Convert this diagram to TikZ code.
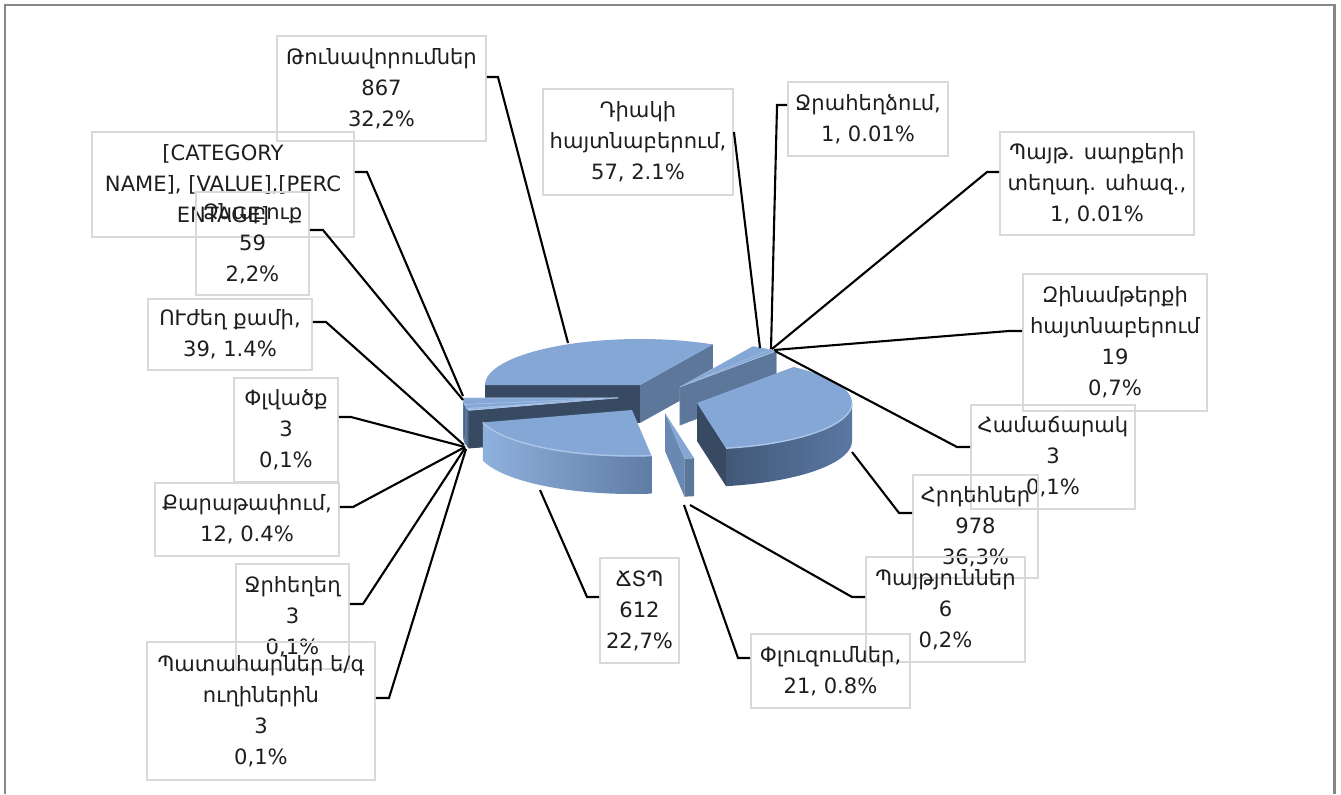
\documentclass[tikz,border=0pt]{standalone}
\usepackage{fontspec}
\setmainfont{DejaVu Sans}
\definecolor{boxgray}{RGB}{217,217,217}
\definecolor{framegray}{RGB}{134,134,134}
\definecolor{labeltext}{RGB}{30,30,30}
\definecolor{pietop}{RGB}{132,167,214}
\definecolor{pierim}{RGB}{172,198,233}
\definecolor{walldark}{RGB}{56,73,98}
\definecolor{wallmid}{RGB}{92,119,154}
\definecolor{tspleft}{RGB}{143,177,221}
\definecolor{tspright}{RGB}{95,124,165}
\definecolor{hrdleft}{RGB}{66,88,120}
\definecolor{hrdmid}{RGB}{53,70,95}
\definecolor{hrdright}{RGB}{90,120,163}
\definecolor{thinwall}{RGB}{105,136,178}
\begin{document}
\begin{tikzpicture}[x=0.02cm, y=-0.02cm,
        lblbox/.style 2 args={draw=boxgray, line width=1.1pt, align=center, inner sep=0pt,
            minimum width=#1*0.02cm, minimum height=#2*0.02cm, text=labeltext,
            font=\fontsize{12}{17.6}\selectfont},
        leader/.style={draw=black, line width=1.2pt},
        rimline/.style={draw=pierim, line width=0.8pt}
    ]
    \useasboundingbox (0,0) rectangle (1341,794);
    \draw [framegray, line width=1.7pt] (5,794) -- (5,5) -- (1334,5) -- (1334,794);

    % pie: Թունավորումներ
    \begin{scope}[shift={(640,385)}]
        \fill [walldark] (0,0) -- (-155,0) -- (-155,38) -- (0,38) -- cycle;
        \fill [wallmid] (0,0) -- ({155*cos(62)},{-46*sin(62)}) -- ++(0,38) -- (0,38) -- cycle;
        \fill [pietop] (0,0) -- plot[domain=62:180, samples=40] ({155*cos(\x)},{-46*sin(\x)}) -- cycle;
    \end{scope}
    % small slices, upper right
    \begin{scope}[shift={(680,387)}]
        \foreach \alo/\ahi in {54.4/62, 54.36/54.4, 54.32/54.36, 51.8/54.32, 51.5/51.8} {
            \fill [wallmid, draw=wallmid!80!white, line width=0.2pt] (0,0) -- ({155*cos(\alo)},{-46*sin(\alo)}) -- ++(0,38) -- (0,38) -- cycle;
            \fill [pietop, draw=pierim, line width=0.2pt] (0,0) -- plot[domain=\alo:\ahi, samples=5] ({155*cos(\x)},{-46*sin(\x)}) -- cycle;
        }
    \end{scope}
    % small slices, left
    \begin{scope}[shift={(618,398)}]
        \foreach \alo/\ahi in {-180/-179.78, -179.78/-171.86, -171.86/-166.82, -166.82/-166.46, -166.46/-165.02, -165.02/-164.66, -164.66/-164.3} {
            \fill [wallmid] plot[domain=\alo:\ahi, samples=5] ({155*cos(\x)},{-46*sin(\x)}) -- plot[domain=\ahi:\alo, samples=5] ({155*cos(\x)},{-46*sin(\x)+38}) -- cycle;
            \fill [walldark] (0,0) -- ({155*cos(\ahi)},{-46*sin(\ahi)}) -- ++(0,38) -- (0,38) -- cycle;
            \fill [pietop, draw=pierim, line width=0.3pt] (0,0) -- plot[domain=\alo:\ahi, samples=5] ({155*cos(\x)},{-46*sin(\x)}) -- cycle;
        }
    \end{scope}
    % Հրդեհներ
    \begin{scope}[shift={(697,403)}]
        \fill [walldark] (0,0) -- ({155*cos(-79.2)},{-46*sin(-79.2)}) -- ++(0,38) -- (0,38) -- cycle;
        \shade [left color=hrdleft, middle color=hrdmid, right color=hrdright] plot[domain=-79.2:0, samples=40] ({155*cos(\x)},{-46*sin(\x)}) -- plot[domain=0:-79.2, samples=40] ({155*cos(\x)},{-46*sin(\x)+38}) -- cycle;
        \fill [pietop] (0,0) -- plot[domain=-79.2:51.5, samples=60] ({155*cos(\x)},{-46*sin(\x)}) -- cycle;
        \draw [rimline] plot[domain=-79.2:0, samples=40] ({155*cos(\x)},{-46*sin(\x)});
    \end{scope}
    % ՃՏՊ
    \begin{scope}[shift={(632,410)}]
        \shade [left color=tspleft, right color=tspright] plot[domain=-164.3:-82.8, samples=40] ({155*cos(\x)},{-46*sin(\x)}) -- plot[domain=-82.8:-164.3, samples=40] ({155*cos(\x)},{-46*sin(\x)+38}) -- cycle;
        \fill [pietop] (0,0) -- plot[domain=-164.3:-82.8, samples=40] ({155*cos(\x)},{-46*sin(\x)}) -- cycle;
        \draw [rimline] plot[domain=-164.3:-82.8, samples=40] ({155*cos(\x)},{-46*sin(\x)});
    \end{scope}
    % Պայթյուններ, Փլուզումներ
    \begin{scope}[shift={(665,413)}]
        \fill [thinwall] (0,0) -- ({155*cos(-82.8)},{-46*sin(-82.8)}) -- ++(0,38) -- (0,38) -- cycle;
        \fill [wallmid] plot[domain=-82.8:-79.2, samples=5] ({155*cos(\x)},{-46*sin(\x)}) -- plot[domain=-79.2:-82.8, samples=5] ({155*cos(\x)},{-46*sin(\x)+38}) -- cycle;
        \fill [pietop] (0,0) -- plot[domain=-82.8:-79.2, samples=5] ({155*cos(\x)},{-46*sin(\x)}) -- cycle;
    \end{scope}

    % leader ends on the pie
    \coordinate (p-thun) at (568,343);
    \coordinate (p-cat) at (463,396);
    \coordinate (p-dzn) at (463,400);
    \coordinate (p-uzh) at (464,445);
    \coordinate (p-plv) at (465,447);
    \coordinate (p-qar) at (465,447);
    \coordinate (p-jrh) at (465,448);
    \coordinate (p-pat) at (466,449);
    \coordinate (p-diak) at (760,348);
    \coordinate (p-jrah) at (771,349);
    \coordinate (p-pays) at (772,349);
    \coordinate (p-zin) at (774,350);
    \coordinate (p-ham) at (775,351);
    \coordinate (p-hrd) at (852,452);
    \coordinate (p-payt) at (690,505);
    \coordinate (p-pluz) at (684,505);
    \coordinate (p-tsp) at (540,490);

    % labels
    \node [lblbox={209}{105}] (thun) at (381.5,88.5) {Թունավորումներ\\867\\32,2\%};
    \node [lblbox={262}{105}] (categ) at (223,184.5) {[CATEGORY\\NAME], [VALUE],[PERC\\ENTAGE]};
    \node [lblbox={113}{103}] (dznab) at (252.5,243.5) {Ձնաբուք\\59\\2,2\%};
    \node [lblbox={164}{71}] (uzh) at (230,334.5) {ՈՒժեղ քամի,\\39, 1.4\%};
    \node [lblbox={104}{104}] (plv) at (286,430) {Փլվածք\\3\\0,1\%};
    \node [lblbox={184}{73}] (qar) at (247,519.5) {Քարաթափում,\\12, 0.4\%};
    \node [lblbox={113}{105}] (jrh) at (292.5,616.5) {Ջրհեղեղ\\3\\0,1\%};
    \node [lblbox={228}{138}] (pat) at (261,711) {Պատահարներ ե/գ\\ուղիներին\\3\\0,1\%};
    \node [lblbox={190}{106}] (diak) at (638,142) {Դիակի\\հայտնաբերում,\\57, 2.1\%};
    \node [lblbox={160}{74}] (jrah) at (868,119) {Ջրահեղձում,\\1, 0.01\%};
    \node [lblbox={194}{103}] (pays) at (1097,183.5) {Պայթ. սարքերի\\տեղադ. ահազ.,\\1, 0.01\%};
    \node [lblbox={184}{137}] (zin) at (1115,342.5) {Զինամթերքի\\հայտնաբերում\\19\\0,7\%};
    \node [lblbox={164}{104}] (ham) at (1053,457) {Համաճարակ\\3\\0,1\%};
    \node [lblbox={125}{103}] (hrd) at (975.5,526.5) {Հրդեհներ\\978\\36,3\%};
    \node [lblbox={159}{105}] (payt) at (945.5,609.5) {Պայթյուններ\\6\\0,2\%};
    \node [lblbox={159}{74}] (pluz) at (830.5,671) {Փլուզումներ,\\21, 0.8\%};
    \node [lblbox={79}{105}] (tsp) at (639.5,610.5) {ՃՏՊ\\612\\22,7\%};

    % leaders
    \draw [leader] ([yshift=0.23cm]thun.east) -- ++(11,0) -- (p-thun);
    \draw [leader] ([yshift=0.25cm]categ.east) -- ++(12,0) -- (p-cat);
    \draw [leader] ([yshift=0.27cm]dznab.east) -- ++(13,0) -- (p-dzn);
    \draw [leader] ([yshift=0.25cm]uzh.east) -- ++(13,0) -- (p-uzh);
    \draw [leader] ([yshift=0.26cm]plv.east) -- ++(12,0) -- (p-plv);
    \draw [leader] ([yshift=0.25cm]qar.east) -- ++(13,0) -- (p-qar);
    \draw [leader] ([yshift=0.25cm]jrh.east) -- ++(13,0) -- (p-jrh);
    \draw [leader] ([yshift=0.26cm]pat.east) -- ++(13,0) -- (p-pat);
    \draw [leader] ([yshift=0.2cm]diak.east) -- (p-diak);
    \draw [leader] ([yshift=0.28cm]jrah.west) -- ++(-10,0) -- (p-jrah);
    \draw [leader] ([yshift=0.23cm]pays.west) -- ++(-12,0) -- (p-pays);
    \draw [leader] ([yshift=0.23cm]zin.west) -- ++(-13,0) -- (p-zin);
    \draw [leader] ([yshift=0.2cm]ham.west) -- ++(-13,0) -- (p-ham);
    \draw [leader] ([yshift=0.27cm]hrd.west) -- ++(-13,0) -- (p-hrd);
    \draw [leader] ([yshift=0.25cm]payt.west) -- ++(-13,0) -- (p-payt);
    \draw [leader] ([yshift=0.26cm]pluz.west) -- ++(-12,0) -- (p-pluz);
    \draw [leader] ([yshift=0.27cm]tsp.west) -- ++(-12,0) -- (p-tsp);
\end{tikzpicture}
\end{document}
